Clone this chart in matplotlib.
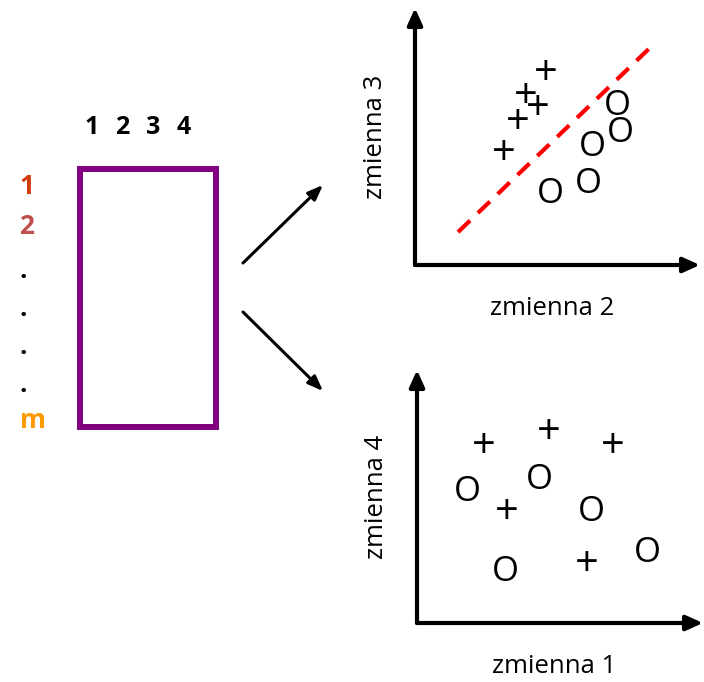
import matplotlib.pyplot as plt
from matplotlib.patches import Rectangle

plt.rcParams['font.family'] = ['Open Sans', 'DejaVu Sans']

# kolumny i wiersze macierzy danych
col_labels = ['1', '2', '3', '4']
row_labels = ['1', '2', '.', '.', '.', '.', 'm']
row_colors = ['#D03C08', '#C0504D', 'black', 'black', 'black', 'black', '#FF9900']

# wykres gorny: zmienna 2 vs zmienna 3
top_plus_x = [4.6, 3.89, 4.32, 3.61, 3.12]
top_plus_y = [7.43, 6.54, 6.07, 5.53, 4.32]
top_o_x = [7.09, 7.19, 6.21, 6.07, 4.74]
top_o_y = [6.19, 5.14, 4.59, 3.15, 2.76]
line_x = [1.51, 8.42]
line_y = [1.28, 8.64]

# wykres dolny: zmienna 1 vs zmienna 4
bot_plus_x = [2.34, 4.62, 6.85, 3.15, 5.94]
bot_plus_y = [6.96, 7.51, 6.96, 4.35, 2.29]
bot_o_x = [1.75, 4.27, 6.08, 8.04, 3.08]
bot_o_y = [5.18, 5.65, 4.39, 2.77, 2.02]

W, H = 704, 682
fig = plt.figure(figsize=(W / 100, H / 100), dpi=100)

ax = fig.add_axes([0, 0, 1, 1])
ax.set_xlim(0, W)
ax.set_ylim(H, 0)
ax.axis('off')

# prostokat
ax.add_patch(Rectangle((80, 169), 136, 258, fill=False, edgecolor='#800080', lw=4.3))

col_x = [92, 122, 153, 184]
for lab, x in zip(col_labels, col_x):
    ax.text(x, 127, lab, ha='center', va='center', fontsize=18, fontweight='bold')

row_y = [187, 226, 270, 309, 347, 385, 420]
row_x = [27, 27, 23, 23, 23, 23, 33]
for lab, x, y, c in zip(row_labels, row_x, row_y, row_colors):
    ax.text(x, y, lab, ha='center', va='center', fontsize=19, fontweight='bold', color=c)

# strzalki
arrow = dict(arrowstyle='-|>,head_length=0.9,head_width=0.35', color='black', lw=2.2, shrinkA=0, shrinkB=0)
ax.annotate('', xy=(323, 185), xytext=(243, 263), arrowprops=arrow)
ax.annotate('', xy=(323, 391), xytext=(243, 312), arrowprops=arrow)


def scatter_panel(box, px, py, ox, oy, xlabel, ylabel):
    x0, y0, x1, y1 = box
    a = fig.add_axes([x0 / W, 1 - y1 / H, (x1 - x0) / W, (y1 - y0) / H])
    a.set_xlim(0, 10)
    a.set_ylim(0, 10)
    a.axis('off')
    ax_arrow = dict(arrowstyle='-|>,head_length=1.0,head_width=0.45', color='black', lw=3, shrinkA=0, shrinkB=0)
    a.annotate('', xy=(10, 0), xytext=(0, 0), arrowprops=ax_arrow, annotation_clip=False)
    a.annotate('', xy=(0, 10), xytext=(0, 0), arrowprops=ax_arrow, annotation_clip=False)
    for x, y in zip(px, py):
        a.text(x, y, '+', ha='center', va='center', fontsize=30)
    for x, y in zip(ox, oy):
        a.text(x, y, 'O', ha='center', va='center', fontsize=25)
    a.text(0.48, -0.17, xlabel, transform=a.transAxes, ha='center', va='center', fontsize=18.5)
    a.text(-0.14, 0.5, ylabel, transform=a.transAxes, ha='center', va='center', fontsize=18.5, rotation=90)
    return a


top = scatter_panel((415, 8, 700, 265), top_plus_x, top_plus_y, top_o_x, top_o_y, 'zmienna 2', 'zmienna 3')
top.plot(line_x, line_y, color='#FF0000', lw=3, dashes=(4, 2.6))

scatter_panel((417, 370, 703, 623), bot_plus_x, bot_plus_y, bot_o_x, bot_o_y, 'zmienna 1', 'zmienna 4')

fig.savefig('out.png', dpi=100)
